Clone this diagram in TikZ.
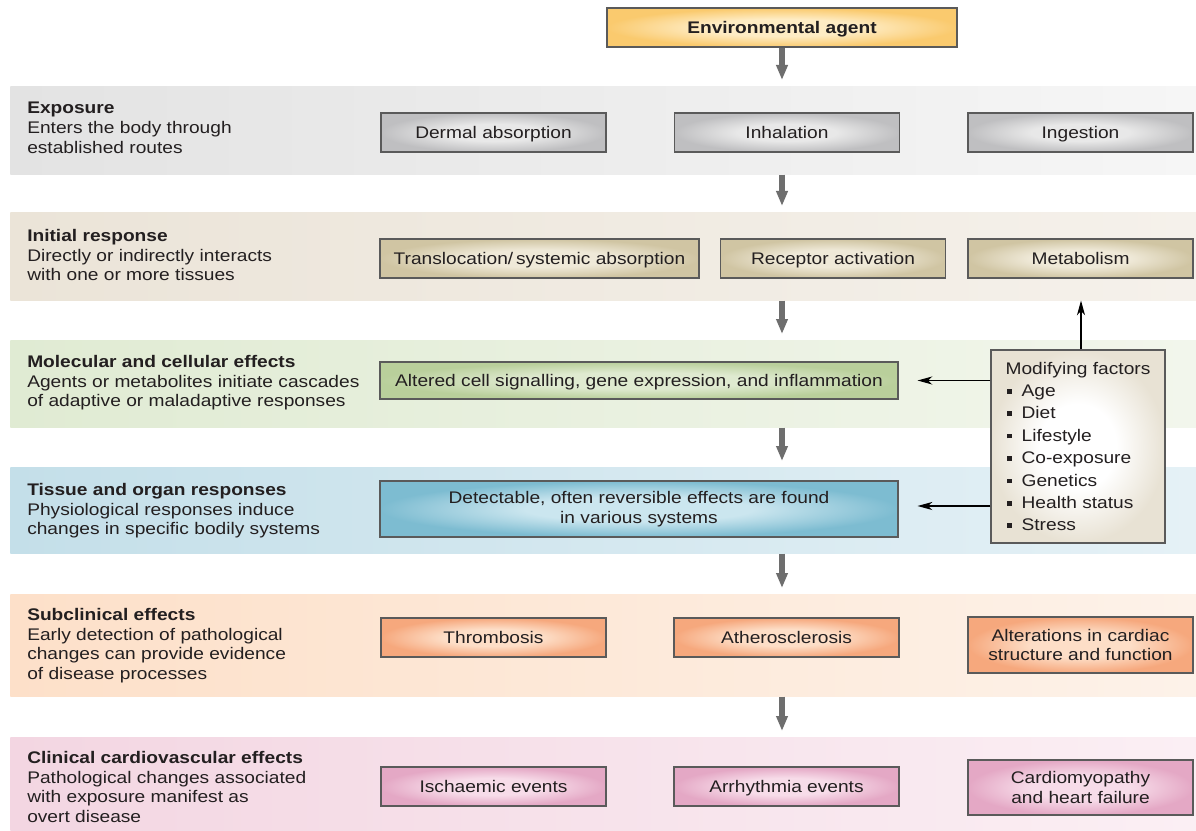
\documentclass[tikz,border=0pt]{standalone}
\usepackage{fontspec}
\setmainfont{Liberation Sans}[FakeStretch=1.14]
\usetikzlibrary{arrows.meta,calc}

\newlength\pxu
\setlength\pxu{0.75pt}

% text and line colours
\definecolor{ink}{HTML}{231F20}
\definecolor{edge}{HTML}{5A5A5A}
\definecolor{arrowgray}{HTML}{6E6E6E}

% band colours (left -> right)
\definecolor{bAl}{HTML}{E3E3E3}\definecolor{bAr}{HTML}{F6F6F6}
\definecolor{bBl}{HTML}{EBE4D8}\definecolor{bBr}{HTML}{F5F1EB}
\definecolor{bCl}{HTML}{E0EBD3}\definecolor{bCr}{HTML}{F2F6EC}
\definecolor{bDl}{HTML}{C4DFE9}\definecolor{bDr}{HTML}{E5F1F6}
\definecolor{bEl}{HTML}{FDE0C9}\definecolor{bEr}{HTML}{FDF2E9}
\definecolor{bFl}{HTML}{F3D6E2}\definecolor{bFr}{HTML}{FBEFF4}

% box glow colours (centre / rim)
\definecolor{grayIn}{HTML}{E8E8E8}\definecolor{grayOut}{HTML}{BFBFC1}
\definecolor{tanIn}{HTML}{EFE9D8}\definecolor{tanOut}{HTML}{D0C5A3}
\definecolor{greenIn}{HTML}{DFEAD0}\definecolor{greenOut}{HTML}{B9CF9B}
\definecolor{blueIn}{HTML}{CBE6EF}\definecolor{blueOut}{HTML}{7DBCD1}
\definecolor{orangeIn}{HTML}{FDDEC7}\definecolor{orangeOut}{HTML}{F6A87D}
\definecolor{pinkIn}{HTML}{F7DCE9}\definecolor{pinkOut}{HTML}{E4A8C5}
\definecolor{yellowIn}{HTML}{FEECC4}\definecolor{yellowOut}{HTML}{FACA6E}
\definecolor{creamIn}{HTML}{FFFFFF}\definecolor{creamOut}{HTML}{E8E2D4}

\newcommand\mkglow[3]{%
  \pgfdeclareradialshading{#1}{\pgfpoint{0bp}{0bp}}%
  {color(0bp)=(#2);color(11bp)=(#2);color(25bp)=(#3);color(50bp)=(#3)}}
\mkglow{glowgray}{grayIn}{grayOut}
\mkglow{glowtan}{tanIn}{tanOut}
\mkglow{glowgreen}{greenIn}{greenOut}
\mkglow{glowblue}{blueIn}{blueOut}
\mkglow{gloworange}{orangeIn}{orangeOut}
\mkglow{glowpink}{pinkIn}{pinkOut}
\mkglow{glowyellow}{yellowIn}{yellowOut}
\mkglow{glowcream}{creamIn}{creamOut}

\newcommand\bodyfont{\fontsize{12.6pt}{14.8pt}\selectfont}
\newcommand\fbul{\hspace*{1.5\pxu}\rule[3\pxu]{4.5\pxu}{4.5\pxu}\hspace{10\pxu}}

\begin{document}
\begin{tikzpicture}[x=0.75pt,y=-0.75pt,
  band/.style={rectangle, inner sep=0, minimum width=1186\pxu, anchor=north west},
  lbl/.style={anchor=north west, inner sep=0, align=left, font=\bodyfont, text=ink},
  stage/.style={rectangle, draw=edge, line width=0.8pt, inner sep=1.5pt,
    align=center, text=ink, font=\bodyfont},
  oneline/.style={text height=0.92em, text depth=0.08em},
  w225/.style={oneline, minimum width=168.75pt, minimum height=29.25pt},
  garrow/.style={draw=arrowgray, line width=4.5pt,
    -{Triangle[length=11.25pt,width=8.25pt]}, shorten >=4.5pt},
  tarrow/.style={draw=black, line width=0.9pt,
    -{Stealth[length=11pt,width=6pt,inset=3pt]}}]

\useasboundingbox (0,0) rectangle (1196,831);
\fill[white] (0,0) rectangle (1196,831);

% horizontal stage bands
\node[band, minimum height=66pt, left color=bAl, right color=bAr] (b1) at (10,86) {};
\node[band, minimum height=66pt, left color=bBl, right color=bBr] (b2) at (10,212) {};
\node[band, minimum height=65.25pt, left color=bCl, right color=bCr] (b3) at (10,340) {};
\node[band, minimum height=64.5pt, left color=bDl, right color=bDr] (b4) at (10,467) {};
\node[band, minimum height=76.5pt, left color=bEl, right color=bEr] (b5) at (10,594) {};
\node[band, minimum height=70.5pt, left color=bFl, right color=bFr] (b6) at (10,737) {};

% band captions
\node[lbl] (t1) at (27,102) {\textbf{Exposure}\\Enters the body through\\established routes};
\node[lbl] (t2) at (27,229) {\textbf{Initial response}\\Directly or indirectly interacts\\with one or more tissues};
\node[lbl] (t3) at (27,355) {\textbf{Molecular and cellular effects}\\Agents or metabolites initiate cascades\\of adaptive or maladaptive responses};
\node[lbl] (t4) at (27,483) {\textbf{Tissue and organ responses}\\Physiological responses induce\\changes in specific bodily systems};
\node[lbl] (t5) at (27,608) {\textbf{Subclinical effects}\\Early detection of pathological\\changes can provide evidence\\of disease processes};
\node[lbl] (t6) at (27,751) {\textbf{Clinical cardiovascular effects}\\Pathological changes associated\\with exposure manifest as\\overt disease};

% source
\node[stage, oneline, shading=glowyellow, minimum width=262.5pt, minimum height=29.25pt,
  font=\bodyfont\bfseries] (top) at (782,27.5) {Environmental agent};

% exposure routes
\node[stage, w225, shading=glowgray] (derm) at (493.5,132.5) {Dermal absorption};
\node[stage, w225, shading=glowgray] (inh) at (787,132.5) {Inhalation};
\node[stage, w225, shading=glowgray] (ing) at (1080.5,132.5) {Ingestion};

% initial response
\node[stage, oneline, shading=glowtan, minimum width=239.25pt, minimum height=29.25pt] (trans) at (539.5,258.5) {Translocation/\,systemic absorption};
\node[stage, w225, shading=glowtan] (rec) at (833,258.5) {Receptor activation};
\node[stage, w225, shading=glowtan] (met) at (1080.5,258.5) {Metabolism};

% molecular and tissue level
\node[stage, oneline, shading=glowgreen, minimum width=388.5pt, minimum height=27.75pt] (alt) at (639,380.5) {Altered cell signalling, gene expression, and inflammation};
\node[stage, shading=glowblue, minimum width=388.5pt, minimum height=42pt] (det) at (639,509) {Detectable, often reversible effects are found\\in various systems};

% subclinical
\node[stage, w225, shading=gloworange] (thr) at (493.5,637.5) {Thrombosis};
\node[stage, w225, shading=gloworange] (ath) at (786.5,637.5) {Atherosclerosis};
\node[stage, shading=gloworange, minimum width=168.75pt, minimum height=42pt] (altc) at (1080.5,645) {Alterations in cardiac\\structure and function};

% clinical
\node[stage, w225, shading=glowpink] (isc) at (493.5,786.5) {Ischaemic events};
\node[stage, w225, shading=glowpink] (arr) at (786.5,786.5) {Arrhythmia events};
\node[stage, shading=glowpink, minimum width=168.75pt, minimum height=41.25pt] (card) at (1080.5,787.5) {Cardiomyopathy\\and heart failure};

% modifying factors
\node[stage, shading=glowcream, align=left, inner xsep=10.5pt,
  minimum width=130.5pt, minimum height=144.75pt,
  font=\fontsize{12.6pt}{16.8pt}\selectfont] (mf) at (1078,446.5)
  {Modifying factors\\\fbul Age\\\fbul Diet\\\fbul Lifestyle\\\fbul Co-exposure\\\fbul Genetics\\\fbul Health status\\\fbul Stress};

% main flow
\draw[garrow] (top.south) -- (top.south |- b1.north);
\draw[garrow] (b1.south -| top) -- (b2.north -| top);
\draw[garrow] (b2.south -| top) -- (b3.north -| top);
\draw[garrow] (b3.south -| top) -- (b4.north -| top);
\draw[garrow] (b4.south -| top) -- (b5.north -| top);
\draw[garrow] (b5.south -| top) -- (b6.north -| top);

% modifying factor links
\draw[tarrow] ([xshift=2.25pt]mf.north) -- ([xshift=2.25pt]mf.north |- b2.south);
\draw[tarrow] (mf.west |- alt.east) -- ([xshift=14.25pt]alt.east);
\draw[tarrow] ([yshift=2.25pt]mf.west |- det.east) -- ([xshift=14.25pt,yshift=2.25pt]det.east);
\end{tikzpicture}
\end{document}
